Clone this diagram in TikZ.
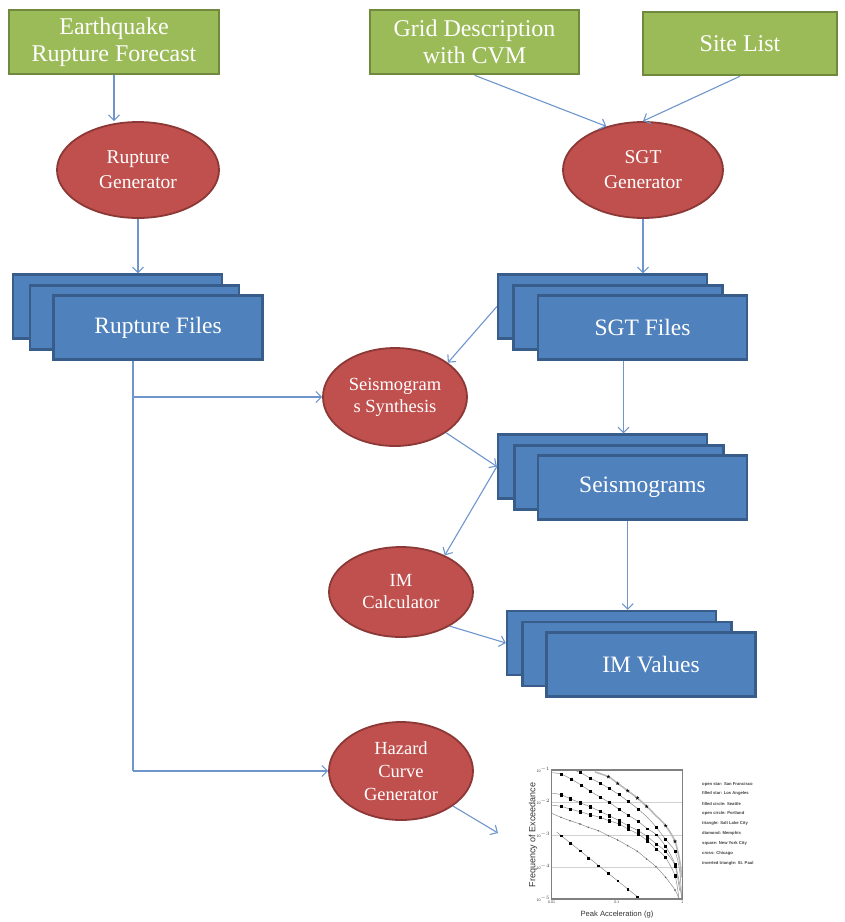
\documentclass[tikz,border=0pt]{standalone}
\usepackage{fontspec}
\setmainfont{Liberation Serif}
\setsansfont{Liberation Sans}
\usetikzlibrary{arrows.meta,shapes.geometric,calc,plotmarks}

\definecolor{leafgreen}{HTML}{9BBB59}
\definecolor{leafedge}{HTML}{71893F}
\definecolor{brickred}{HTML}{C0504D}
\definecolor{brickedge}{HTML}{8C3836}
\definecolor{steelblue}{HTML}{4F81BD}
\definecolor{steeledge}{HTML}{385D8A}
\definecolor{wire}{RGB}{110,150,205}

\tikzset{
  inputbox/.style={rectangle, draw=leafedge, line width=2.5pt, fill=leafgreen,
    text=white, font=\fontsize{24}{27}\selectfont, align=center, inner sep=0pt},
  process/.style={ellipse, draw=brickedge, line width=1.8pt, fill=brickred,
    text=white, align=center, inner sep=0pt},
  filesheet/.style={rectangle, draw=steeledge, line width=2.2pt, fill=steelblue,
    text=white, minimum width=209pt, minimum height=64pt, inner sep=0pt,
    font=\fontsize{23.5}{26}\selectfont},
  flow/.style={draw=wire, line width=1.1pt, -{Straight Barb[length=5.5pt,width=11pt]}},
  plain/.style={draw=wire, line width=1.1pt},
  fitline/.style={draw=black!45, line width=0.5pt},
  ticklabel/.style={font=\sffamily\fontsize{3.6}{3.6}\selectfont, text=black!75, inner sep=0.5pt},
  legendtext/.style={font=\sffamily\bfseries\fontsize{4.2}{4.2}\selectfont, text=black!75,
    anchor=west, inner sep=0pt},
}

\begin{document}
\begin{tikzpicture}[x=1pt, y=-1pt]
\useasboundingbox (0,0) rectangle (845,922);

% inputs
\node[inputbox, minimum width=210pt, minimum height=64pt] (erf) at (114,42) {Earthquake\\Rupture Forecast};
\node[inputbox, minimum width=209pt, minimum height=64pt] (grid) at (474.5,42) {Grid Description\\with CVM};
\node[inputbox, minimum width=194pt, minimum height=63pt] (site) at (740,43.5) {Site List};

% processing steps
\node[process, minimum width=162pt, minimum height=96pt, font=\fontsize{19.5}{25}\selectfont] (rg) at (138,170) {Rupture\\Generator};
\node[process, minimum width=160pt, minimum height=96pt, font=\fontsize{19.5}{25}\selectfont] (sgg) at (643,170) {SGT\\Generator};
\node[process, minimum width=144pt, minimum height=98pt, font=\fontsize{18.5}{22}\selectfont] (ss) at (395,397) {Seismogram\\s Synthesis};
\node[process, minimum width=144pt, minimum height=90pt, font=\fontsize{18.5}{22}\selectfont] (imc) at (401,592) {IM\\Calculator};
\node[process, minimum width=144pt, minimum height=98pt, font=\fontsize{18.5}{23}\selectfont] (hz) at (401,771) {Hazard\\Curve\\Generator};

% stacked file sets
\node[filesheet] (rfB) at (117.5,306.5) {};
\node[filesheet] (rfM) at (134.5,317.5) {};
\node[filesheet] (rfF) at (158,327.5) {Rupture Files};

\node[filesheet] (sgtB) at (602.5,306.5) {};
\node[filesheet] (sgtM) at (618,317.5) {};
\node[filesheet] (sgtF) at (642.5,327.5) {SGT Files};

\node[filesheet] (seisB) at (602.5,466.5) {};
\node[filesheet] (seisM) at (619,477.5) {};
\node[filesheet] (seisF) at (642.5,487.5) {Seismograms};

\node[filesheet] (imB) at (611.5,643) {};
\node[filesheet] (imM) at (627,654) {};
\node[filesheet] (imF) at (651,664.5) {IM Values};

% connectors
\draw[flow] (erf.south) -- (erf.south |- rg.north);
\draw[flow] (rg.south) -- (rg.south |- rfB.north);
\draw[flow] (grid.south) -- (sgg.130);
\draw[flow] (site.south) -- (sgg.north);
\draw[flow] (sgg.south) -- (sgg.south |- sgtB.north);

\coordinate (tapA) at (133,397);
\coordinate (tapB) at (133,771);
\draw[plain] (rfF.south -| tapA) -- (tapB);
\draw[flow] (tapA) -- (ss.west);
\draw[flow] (tapB) -- (hz.west);

\draw[flow] (sgtB.west) -- (ss.33);
\draw[flow] (ss.-35) -- (seisB.west);
\coordinate (sgtout) at ($(sgtF.south west)!0.41!(sgtF.south east)$);
\draw[flow] (sgtout) -- (sgtout |- seisB.north);

\draw[flow] (seisB.west) -- (imc.40);
\draw[flow] (imc.-35) -- (imB.west);
\coordinate (seisout) at ($(seisF.south west)!0.43!(seisF.south east)$);
\draw[flow] (seisout) -- (seisout |- imB.north);

\coordinate (chartin) at (498,833);
\draw[flow] (hz.-34) -- (chartin);

% hazard curve chart
\begin{scope}[shift={(545,764)}, x=0.3333pt, y=-0.3333pt]
  \draw[black!18, line width=0.4pt] (20,115) -- (412,115) (20,213) -- (412,213) (20,310) -- (412,310);

  % open star curve
  \draw[black!28, line width=1.6pt] plot[smooth] coordinates {(150,24) (190,38) (218,58) (248,80) (277,102) (305,127) (333,155) (362,185) (390,232) (404,290) (410,340)};
  \path plot[only marks, mark=star, mark size=1.8pt, mark options={draw=black, line width=0.6pt}]
    coordinates {(190,38) (218,58) (248,80) (277,102) (305,127) (362,185) (390,232)};

  % filled square curves
  \draw[fitline] plot[smooth] coordinates {(85,18) (105,25) (135,42) (165,57) (192,73) (222,92) (249,112) (279,135) (307,160) (334,190) (361,225) (390,262) (404,320) (410,400)};
  \path plot[only marks, mark=square*, mark size=1pt, mark options={fill=black, draw=black}]
    coordinates {(105,25) (135,42) (165,57) (192,73) (222,92) (249,112) (279,135) (334,190) (361,225) (390,262)};

  \draw[fitline] plot[smooth] coordinates {(22,26) (48,30) (78,45) (108,63) (135,81) (165,99) (192,115) (222,136) (249,153) (279,172) (307,194) (334,212) (361,246) (390,300) (404,360) (410,404)};
  \path plot[only marks, mark=square*, mark size=0.75pt, mark options={fill=black, draw=black}]
    coordinates {(48,30) (78,45) (108,63) (135,81) (165,99) (192,115) (222,136) (249,153) (279,172) (307,194) (334,212) (361,246) (390,300)};

  \draw[fitline] plot[smooth] coordinates {(22,88) (48,92) (75,104) (105,116) (135,128) (165,142) (192,155) (222,170) (249,185) (279,200) (307,218) (334,240) (361,262) (390,305) (404,380)};
  \path plot[only marks, mark=square*, mark size=1.1pt, mark options={fill=black, draw=black}]
    coordinates {(48,92) (75,104) (105,116) (135,128) (165,142) (192,155) (222,170) (249,185) (279,200) (307,218) (334,240) (361,262) (390,305)};

  \draw[fitline] plot[smooth] coordinates {(22,124) (48,127) (75,135) (105,143) (135,152) (165,160) (192,170) (222,180) (249,195) (279,210) (307,230) (334,255) (361,280) (390,335) (402,404)};
  \path plot[only marks, mark=square*, mark size=1.1pt, mark options={fill=black, draw=black}]
    coordinates {(48,127) (75,135) (105,143) (135,152) (165,160) (192,170) (222,180) (249,195) (279,210) (307,230) (334,255) (361,280) (390,335)};

  % small dot curve
  \draw[fitline] plot[smooth] coordinates {(20,148) (48,160) (75,170) (105,180) (130,190) (160,200) (190,215) (218,228) (248,245) (277,262) (305,285) (333,308) (362,340) (390,378) (402,404)};
  \path plot[only marks, mark=*, mark size=0.55pt, mark options={fill=black!60, draw=black!60}]
    coordinates {(48,160) (75,170) (105,180) (130,190) (160,200) (190,215) (218,228) (248,245) (277,262) (305,285) (333,308) (362,340) (390,378)};

  % bottom straight curve
  \draw[fitline] (35,204) -- (282,402);
  \path plot[only marks, mark=square*, mark size=0.8pt, mark options={fill=black, draw=black}]
    coordinates {(48,215) (75,238) (105,260) (130,283) (160,305) (190,328) (218,350) (248,375) (277,398)};

  \draw[black!50, line width=1.2pt] (20,18) rectangle (412,405);

  % axis ticks and labels
  \foreach \lab/\yy [count=\i] in {{10$^{-1}$}/18, {10$^{-2}$}/115, {10$^{-3}$}/213, {10$^{-4}$}/310, {10$^{-5}$}/405}
    \node[ticklabel, anchor=east] (ytick\i) at (17,\yy) {\lab};
  \node[ticklabel, anchor=north] (xtick1) at (20,410) {0.01};
  \node[ticklabel, anchor=north] (xtick2) at (216,410) {0.1};
  \node[ticklabel, anchor=north] (xtick3) at (412,410) {1};

  \node[font=\sffamily\fontsize{9}{9}\selectfont, text=black!80, rotate=90, inner sep=0pt] (ylab) at (-36,213) {Frequency of Exceedance};
  \node[font=\sffamily\fontsize{7.6}{7.6}\selectfont, text=black!80, inner sep=0pt] (xlab) at (216,453) {Peak Acceleration (g)};

  % legend
  \foreach \txt [count=\i] in {open star: San Francisco, filled star: Los Angeles, filled circle: Seattle,
      open circle: Portland, triangle: Salt Lake City, diamond: Memphis, square: New York City,
      cross: Chicago, inverted triangle: St. Paul}
    \node[legendtext] (leg\i) at (471,{60+29.6*(\i-1)}) {\txt};
\end{scope}

\end{tikzpicture}
\end{document}
